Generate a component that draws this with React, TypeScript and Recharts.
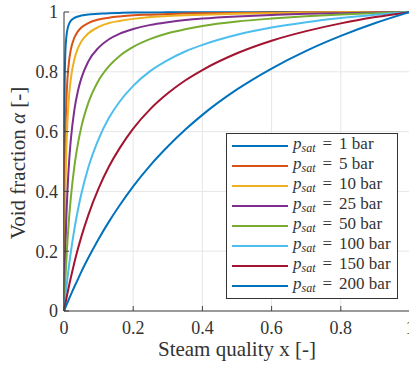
import React from 'react';
import { LineChart, Line, XAxis, YAxis, CartesianGrid, Legend, Label } from 'recharts';

const xValues = [0, 0.001, 0.002, 0.004, 0.007, 0.01, 0.015, 0.02, 0.03, 0.04, 0.05, 0.07, 0.1, 0.13, 0.16, 0.2, 0.25, 0.3, 0.35, 0.4, 0.5, 0.6, 0.7, 0.8, 0.9, 1];

const p1 = [0, 0.618, 0.764, 0.866, 0.919, 0.942, 0.961, 0.971, 0.980, 0.985, 0.988, 0.992, 0.994, 0.996, 0.997, 0.998, 0.998, 0.999, 0.999, 0.999, 0.999, 1, 1, 1, 1, 1];
const p5 = [0, 0.257, 0.409, 0.581, 0.709, 0.777, 0.840, 0.876, 0.914, 0.935, 0.948, 0.963, 0.975, 0.981, 0.985, 0.989, 0.991, 0.993, 0.995, 0.996, 0.997, 0.998, 0.999, 0.999, 1, 1];
const p10 = [0, 0.147, 0.257, 0.409, 0.549, 0.635, 0.724, 0.779, 0.842, 0.878, 0.901, 0.928, 0.950, 0.963, 0.970, 0.977, 0.983, 0.987, 0.989, 0.991, 0.994, 0.996, 0.998, 0.999, 0.999, 1];
const p25 = [0, 0.063, 0.118, 0.211, 0.320, 0.402, 0.504, 0.576, 0.673, 0.735, 0.778, 0.834, 0.881, 0.909, 0.927, 0.943, 0.957, 0.966, 0.973, 0.978, 0.985, 0.990, 0.994, 0.996, 0.998, 1];
const p50 = [0, 0.029, 0.057, 0.108, 0.176, 0.234, 0.316, 0.382, 0.484, 0.558, 0.615, 0.695, 0.771, 0.819, 0.852, 0.883, 0.910, 0.929, 0.942, 0.953, 0.968, 0.978, 0.986, 0.992, 0.996, 1];
const p100 = [0, 0.012, 0.024, 0.047, 0.079, 0.110, 0.157, 0.199, 0.274, 0.337, 0.391, 0.479, 0.575, 0.646, 0.699, 0.753, 0.803, 0.839, 0.868, 0.890, 0.924, 0.948, 0.966, 0.980, 0.991, 1];
const p150 = [0, 0.006, 0.012, 0.025, 0.042, 0.059, 0.087, 0.113, 0.162, 0.207, 0.248, 0.320, 0.410, 0.483, 0.543, 0.610, 0.676, 0.728, 0.771, 0.806, 0.862, 0.904, 0.936, 0.962, 0.983, 1];
const p200 = [0, 0.003, 0.006, 0.011, 0.020, 0.028, 0.042, 0.055, 0.081, 0.106, 0.131, 0.177, 0.241, 0.299, 0.352, 0.417, 0.488, 0.550, 0.606, 0.656, 0.741, 0.811, 0.870, 0.920, 0.963, 1];

const pressures = [1, 5, 10, 25, 50, 100, 150, 200];
const seriesValues = [p1, p5, p10, p25, p50, p100, p150, p200];
const colors = ['#0072BD', '#D95319', '#EDB120', '#7E2F8E', '#77AC30', '#4DBEEE', '#A2142F', '#0072BD'];

const xTicks = [0, 0.2, 0.4, 0.6, 0.8, 1];
const yTicks = [0, 0.2, 0.4, 0.6, 0.8, 1];

const data = xValues.map((x, i) => {
  const row: Record<string, number> = { x };
  pressures.forEach((p, k) => {
    row['p' + p] = seriesValues[k][i];
  });
  return row;
});

const FONT = 'Liberation Serif, DejaVu Serif, serif';
const AXIS = '#404040';
const TEXT = '#333333';

const tickStyle = { fontFamily: FONT, fontSize: 18, fill: TEXT };

const LegendBox = () => (
  <div
    style={{
      border: '1px solid #333',
      background: '#fff',
      padding: '2px 0 2px 0',
      width: 170,
      boxSizing: 'content-box',
      fontFamily: FONT,
      color: TEXT,
    }}
  >
    {pressures.map((p, k) => (
      <div key={p} style={{ height: 20, display: 'flex', alignItems: 'center' }}>
        <svg width={62} height={20} style={{ flex: 'none' }}>
          <line x1={5} x2={61} y1={10} y2={10} stroke={colors[k]} strokeWidth={2} />
        </svg>
        <span style={{ fontSize: 17, marginLeft: 4, whiteSpace: 'nowrap', lineHeight: '20px' }}>
          <i>p</i>
          <sub style={{ fontSize: 12, fontStyle: 'italic', verticalAlign: '-3px' }}>sat</sub>
          <span style={{ margin: '0 7px' }}>=</span>
          {p} bar
        </span>
      </div>
    ))}
  </div>
);

export default function App() {
  return (
    <div style={{ position: 'fixed', left: 0, top: 0, width: 409, height: 365, overflow: 'hidden', background: '#fff' }}>
      <LineChart
        width={420}
        height={365}
        data={data}
        margin={{ top: 12, right: 10, bottom: 0, left: 0 }}
      >
        <CartesianGrid xAxisId="bottom" yAxisId="left" stroke="#e6e6e6" strokeWidth={1} />
        <XAxis
          xAxisId="bottom"
          dataKey="x"
          type="number"
          domain={[0, 1]}
          ticks={xTicks}
          orientation="bottom"
          height={54}
          stroke={AXIS}
          tickSize={-5}
          tickMargin={15}
          tick={tickStyle}
          interval={0}
        >
          <Label
            content={() => (
              <text x={237} y={356} textAnchor="middle" fontFamily={FONT} fontSize={21} fill={TEXT}>
                Steam quality x [-]
              </text>
            )}
          />
        </XAxis>
        <XAxis
          xAxisId="top"
          dataKey="x"
          type="number"
          domain={[0, 1]}
          ticks={xTicks}
          orientation="top"
          height={0}
          stroke={AXIS}
          tickSize={-5}
          tick={false}
        />
        <YAxis
          yAxisId="left"
          type="number"
          domain={[0, 1]}
          ticks={yTicks}
          width={64}
          stroke={AXIS}
          tickSize={-5}
          tickMargin={11}
          tick={tickStyle}
          interval={0}
        >
          <Label
            content={() => (
              <text
                x={25}
                y={163}
                transform="rotate(-90 25 163)"
                textAnchor="middle"
                fontFamily={FONT}
                fontSize={21}
                fill={TEXT}
              >
                Void fraction <tspan fontStyle="italic">α</tspan> [-]
              </text>
            )}
          />
        </YAxis>
        <YAxis
          yAxisId="right"
          type="number"
          domain={[0, 1]}
          ticks={yTicks}
          orientation="right"
          width={0}
          stroke={AXIS}
          tickSize={-5}
          tick={false}
        />
        {pressures.map((p, k) => (
          <Line
            key={p}
            xAxisId="bottom"
            yAxisId="left"
            type="monotone"
            dataKey={'p' + p}
            stroke={colors[k]}
            strokeWidth={2}
            dot={false}
            activeDot={false}
            isAnimationActive={false}
          />
        ))}
        <Legend
          layout="vertical"
          align="center"
          verticalAlign="middle"
          wrapperStyle={{ left: 226, top: 133, width: 172, height: 164 }}
          content={() => <LegendBox />}
        />
      </LineChart>
    </div>
  );
}
